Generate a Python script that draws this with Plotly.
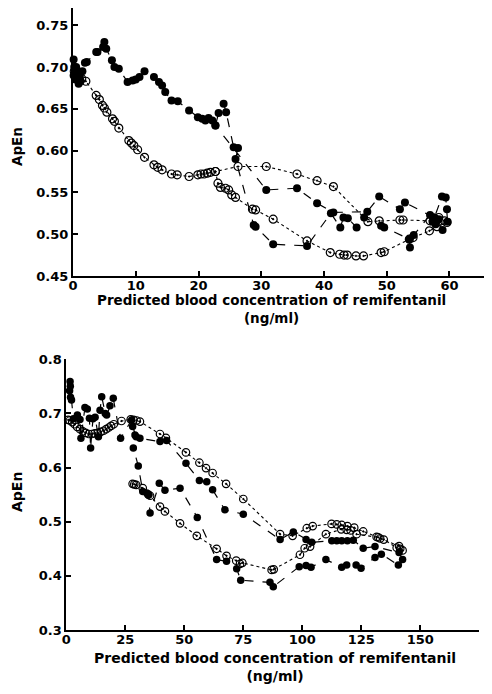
import plotly.graph_objects as go

# ---------------- Top panel data ----------------
top_filled_x = [0.1, 0.2, 0.3, 0.1, 0.4, 0.6, 0.8, 0.5, 1.0, 1.2, 0.9, 1.5, 1.9, 2.2,
                3.7, 3.9, 4.8, 5.0, 5.3, 6.2, 6.6, 7.3, 8.7, 9.5, 10.0, 10.6, 11.4,
                12.9, 13.7, 14.2, 14.7, 15.7, 16.7, 18.5, 19.9, 20.6, 21.1, 21.6, 22.2,
                22.7, 23.2, 24.0, 24.4, 25.6, 26.3, 25.9, 28.8, 29.1, 31.9, 37.3, 41.1,
                42.6, 43.1, 43.8, 45.2, 46.4, 49.1, 49.6, 53.6, 53.7, 54.3, 56.9, 57.3,
                57.8, 58.3, 57.6, 58.8, 59.4, 59.6, 59.7, 58.9, 57.5, 52.9, 52.1, 48.8,
                46.9, 41.5, 38.9, 35.7, 30.8, 22.7]
top_filled_y = [0.709, 0.700, 0.695, 0.690, 0.685, 0.690, 0.695, 0.700, 0.688, 0.683, 0.680, 0.695, 0.705, 0.706,
                0.718, 0.718, 0.724, 0.730, 0.722, 0.708, 0.700, 0.698, 0.682, 0.684, 0.685, 0.688, 0.695,
                0.688, 0.682, 0.678, 0.670, 0.660, 0.659, 0.648, 0.640, 0.638, 0.636, 0.639, 0.636,
                0.630, 0.645, 0.656, 0.646, 0.604, 0.603, 0.590, 0.511, 0.509, 0.488, 0.486, 0.525,
                0.508, 0.520, 0.519, 0.508, 0.520, 0.510, 0.508, 0.494, 0.484, 0.499, 0.523, 0.515,
                0.512, 0.518, 0.520, 0.545, 0.544, 0.530, 0.515, 0.505, 0.520, 0.538, 0.530, 0.545,
                0.527, 0.526, 0.537, 0.555, 0.553, 0.630]

top_open_x = [0.2, 0.4, 0.6, 1.0, 1.4, 2.05, 3.7, 4.2, 4.7, 5.0, 5.4, 6.3, 6.6, 7.3, 8.9, 9.3,
              9.7, 10.3, 11.4, 12.9, 13.5, 14.2, 15.7, 16.6, 18.5, 19.9, 20.4, 20.9, 21.4, 21.9,
              22.7, 26.3, 30.8, 35.7, 38.9, 41.5, 47.0, 48.8, 52.1, 52.6, 56.9, 57.5, 58.3, 59.2,
              59.6, 58.0, 56.8, 54.2, 53.6, 49.6, 49.1, 46.3, 45.1, 43.7, 43.2, 42.5, 41.0, 37.3,
              31.9, 29.1, 28.6, 25.9, 25.3, 24.8, 24.3, 23.5, 23.1, 22.7]
top_open_y = [0.695, 0.692, 0.690, 0.688, 0.686, 0.683, 0.666, 0.661, 0.654, 0.651, 0.646, 0.638, 0.635, 0.627, 0.612, 0.609,
              0.606, 0.601, 0.592, 0.583, 0.580, 0.577, 0.572, 0.571, 0.569, 0.571, 0.572, 0.572, 0.573, 0.574,
              0.575, 0.581, 0.581, 0.572, 0.564, 0.557, 0.515, 0.516, 0.517, 0.517, 0.516, 0.518, 0.520, 0.516,
              0.514, 0.509, 0.504, 0.496, 0.494, 0.479, 0.478, 0.474, 0.474, 0.475, 0.475, 0.476, 0.478, 0.492,
              0.518, 0.529, 0.530, 0.544, 0.547, 0.553, 0.555, 0.556, 0.561, 0.575]

top_x_ticks = [0, 10, 20, 30, 40, 50, 60]
top_y_ticks = [0.45, 0.50, 0.55, 0.60, 0.65, 0.70, 0.75]

# ---------------- Bottom panel data ----------------
bot_filled_x = [1.6, 1.7, 1.4, 1.8, 2.2, 3.0, 4.7, 5.8, 6.2, 7.9, 8.9, 9.8, 10.3, 11.3, 12.2, 13.6,
                14.3, 15.0, 16.5, 17.1, 18.5, 19.9, 23.0, 27.7, 28.1, 29.1, 29.6, 31.2, 39.7, 42.5,
                50.7, 56.4, 59.5, 62.0, 67.2, 75.0, 90.6, 96.2, 101.6, 104.0, 112.5, 114.6, 116.7,
                119.1, 121.6, 125.8, 130.8, 141.0, 142.5, 140.7,
                133.5, 130.8, 124.9, 122.8, 118.8, 116.7, 110.0, 103.7, 101.6, 98.7, 87.7, 86.3,
                73.9, 72.2, 67.9, 63.7, 55.5, 48.2, 41.8, 39.4, 35.5, 34.8, 34.1, 32.4, 30.5, 28.4]
bot_filled_y = [0.759, 0.750, 0.742, 0.730, 0.725, 0.690, 0.697, 0.689, 0.654, 0.711, 0.708, 0.691, 0.636, 0.690, 0.693, 0.657,
                0.706, 0.731, 0.700, 0.697, 0.714, 0.728, 0.654, 0.688, 0.676, 0.660, 0.657, 0.654, 0.648, 0.650,
                0.608, 0.576, 0.574, 0.559, 0.522, 0.514, 0.467, 0.481, 0.467, 0.462, 0.465, 0.465, 0.465,
                0.465, 0.466, 0.451, 0.454, 0.443, 0.430, 0.420,
                0.440, 0.434, 0.414, 0.420, 0.420, 0.416, 0.430, 0.416, 0.419, 0.417, 0.380, 0.388,
                0.392, 0.413, 0.427, 0.430, 0.508, 0.562, 0.558, 0.571, 0.516, 0.550, 0.553, 0.556, 0.603, 0.636]

bot_open_x = [0.8, 1.5, 2.5, 3.5, 4.6, 5.8, 7.0, 8.2, 9.5, 10.8, 12.0, 13.3, 14.6, 15.8, 16.9, 18.0,
              19.0, 20.1, 23.4, 27.3, 28.5, 29.8, 31.2, 39.7, 42.2, 50.7, 56.4, 59.2, 62.0, 67.7,
              75.0, 90.6, 95.9, 101.9, 104.4, 112.4, 114.6, 116.7, 119.1, 122.0, 125.8, 131.5, 133.0,
              134.5, 140.0, 141.5, 142.5,
              141.0, 132.2, 123.0, 120.5, 118.8, 116.5, 110.0, 103.3, 101.0, 99.0, 87.9, 87.0,
              74.6, 73.6, 72.0, 67.9, 63.7, 55.3, 48.2, 41.8, 39.7, 35.5, 34.8, 32.4, 29.6, 28.8, 28.1]
bot_open_y = [0.688, 0.687, 0.684, 0.680, 0.675, 0.671, 0.667, 0.664, 0.662, 0.662, 0.663, 0.664, 0.666, 0.668, 0.671, 0.674,
              0.677, 0.680, 0.686, 0.689, 0.688, 0.687, 0.685, 0.662, 0.655, 0.628, 0.609, 0.599, 0.590, 0.570,
              0.542, 0.477, 0.474, 0.488, 0.492, 0.496, 0.495, 0.494, 0.492, 0.489, 0.482, 0.472, 0.469,
              0.467, 0.452, 0.450, 0.447,
              0.455, 0.471, 0.477, 0.484, 0.485, 0.486, 0.477, 0.454, 0.451, 0.439, 0.412, 0.411,
              0.424, 0.422, 0.428, 0.437, 0.450, 0.474, 0.497, 0.519, 0.528, 0.548, 0.550, 0.562, 0.568, 0.569, 0.570]

bot_x_ticks = [0, 25, 50, 75, 100, 125, 150, 175]
bot_y_ticks = [0.3, 0.4, 0.5, 0.6, 0.7, 0.8]

# ---------------- Figure ----------------
# page body has an 8px margin; the figure is sized to fill the 492x694 window exactly
OFF = 8
W, H = 492 - 2 * OFF, 694 - 2 * OFF
FONT = "DejaVu Sans"
fig = go.Figure()

def add_pair(fx, fy, ox, oy, xa, ya, msize):
    fig.add_trace(go.Scatter(
        x=ox, y=oy, mode="lines+markers", xaxis=xa, yaxis=ya, showlegend=False,
        line=dict(color="black", width=1.1, dash="dot"),
        marker=dict(symbol="circle-open-dot", size=msize, color="black",
                    line=dict(width=1.2, color="black")),
        cliponaxis=False))
    fig.add_trace(go.Scatter(
        x=fx, y=fy, mode="lines+markers", xaxis=xa, yaxis=ya, showlegend=False,
        line=dict(color="black", width=1.2, dash="dash"),
        marker=dict(symbol="circle", size=msize, color="black"),
        cliponaxis=False))

add_pair(top_filled_x, top_filled_y, top_open_x, top_open_y, "x", "y", 8)
add_pair(bot_filled_x, bot_filled_y, bot_open_x, bot_open_y, "x2", "y2", 7.5)

tickfont = dict(family=FONT, size=13, color="black", weight="bold")
common = dict(showgrid=False, zeroline=False, showline=True, linecolor="black",
              linewidth=2, ticks="inside", ticklen=5, tickwidth=1.5, tickcolor="black",
              tickfont=tickfont, automargin=False)

def px_x(p):
    return (p - OFF) / W

def px_y(p):
    return 1 - (p - OFF) / H

fig.update_layout(
    width=W, height=H, paper_bgcolor="white", plot_bgcolor="white",
    margin=dict(l=0, r=0, t=0, b=0),
    xaxis=dict(domain=[px_x(73), min(1, px_x(488))], range=[0, 65.5], tickvals=top_x_ticks,
               anchor="y", ticklabelstandoff=-4, **common),
    yaxis=dict(domain=[px_y(276), px_y(8)], range=[0.45, 0.7706], tickvals=top_y_ticks,
               tickformat=".2f", anchor="x", **common),
    xaxis2=dict(domain=[px_x(66.3), px_x(479.3)], range=[0, 175], tickvals=bot_x_ticks,
                anchor="y2", ticklabelstandoff=-4, **common),
    yaxis2=dict(domain=[px_y(630), px_y(359.3)], range=[0.3, 0.8], tickvals=bot_y_ticks,
                tickformat=".1f", anchor="x2", **common),
)

title_font_top = dict(family=FONT, size=13.5, color="black", weight="bold")
title_font_bot = dict(family=FONT, size=14, color="black", weight="bold")
xtitle = "Predicted blood concentration of remifentanil<br>(ng/ml)"
annotations = [
    dict(text=xtitle, x=px_x(271), y=px_y(309), font=title_font_top),
    dict(text="ApEn", x=px_x(17), y=px_y(147), textangle=-90, font=title_font_top),
    dict(text=xtitle, x=px_x(275), y=px_y(667), font=title_font_bot),
    dict(text="ApEn", x=px_x(17), y=px_y(492), textangle=-90, font=title_font_bot),
]
for a in annotations:
    a.update(xref="paper", yref="paper", showarrow=False, xanchor="center", yanchor="middle")
fig.update_layout(annotations=annotations)

fig.write_html("out.html")
